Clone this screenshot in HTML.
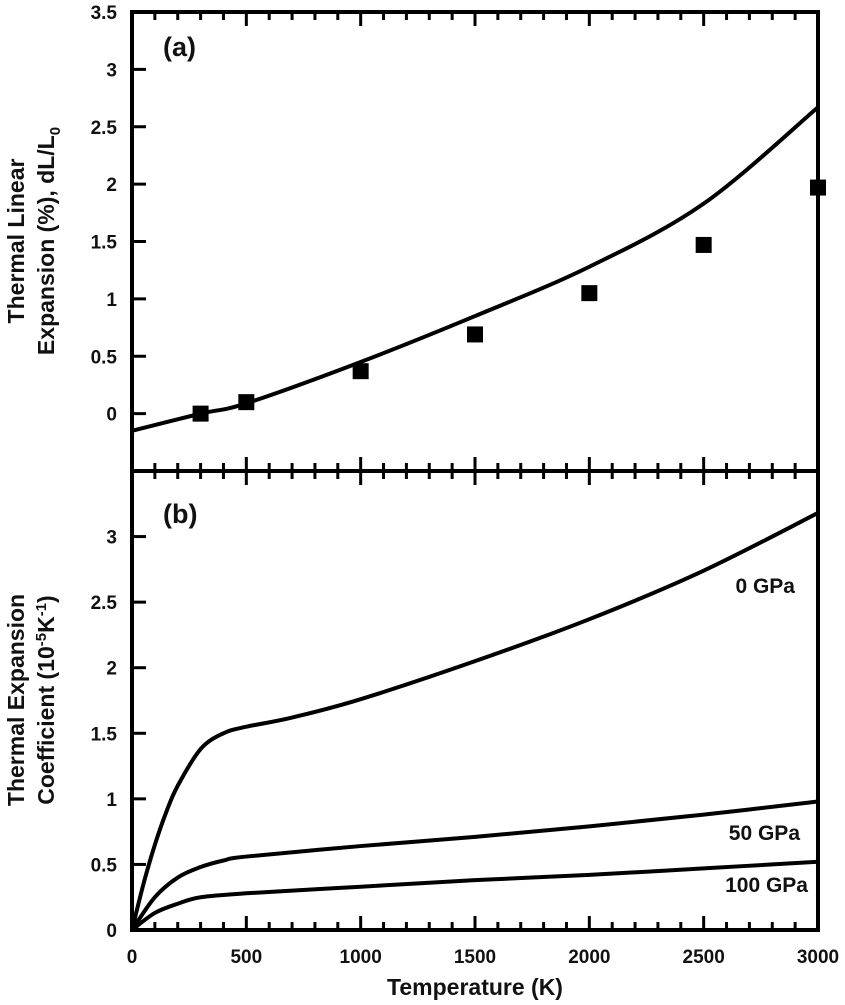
<!DOCTYPE html>
<html><head><meta charset="utf-8"><style>
body{margin:0;background:#fff;}
svg text{font-family:"Liberation Sans",Arial,sans-serif;fill:#111;}
.tick{font-size:19px;font-weight:bold;}
.title{font-size:23px;font-weight:bold;}
</style></head><body>
<svg id="chart" width="845" height="1000" viewBox="0 0 845 1000"></svg>
<script>
const tempSquares=[300,500,1000,1500,2000,2500,3000];
const expSquares=[0,0.1,0.37,0.69,1.05,1.47,1.97];
const tempCurveA=[0,300,500,1000,1500,2000,2500,3000];
const expCurveA=[-0.15,0,0.09,0.45,0.85,1.28,1.83,2.67];
const temp0=[0,50,100,150,200,300,400,500,700,1000,1500,2000,2500,3000];
const alpha0=[0,0.35,0.65,0.9,1.1,1.38,1.5,1.55,1.62,1.76,2.05,2.37,2.74,3.18];
const temp50=[0,100,200,300,400,500,1000,1500,2000,2500,3000];
const alpha50=[0,0.25,0.4,0.48,0.53,0.56,0.64,0.71,0.79,0.88,0.98];
const temp100=[0,100,200,300,500,1000,1500,2000,2500,3000];
const alpha100=[0,0.13,0.2,0.25,0.28,0.33,0.38,0.42,0.47,0.52];
const xTicks=[0,500,1000,1500,2000,2500,3000];
const yTicksA=[0,0.5,1,1.5,2,2.5,3,3.5];
const yTicksB=[0,0.5,1,1.5,2,2.5,3];

const NS="http://www.w3.org/2000/svg";
const svg=document.getElementById('chart');
const L=132,R=818,T=12,M=471,B=930;
const x=v=>L+v/3000*(R-L);
const yA=v=>M-(v+0.5)/4*(M-T);
const yB=v=>B-v/3.5*(B-M);
function mk(tag,attrs,parent){const e=document.createElementNS(NS,tag);for(const k in attrs)e.setAttribute(k,attrs[k]);(parent||svg).appendChild(e);return e;}
function txt(s,attrs){const e=mk('text',attrs);e.textContent=s;return e;}
function smooth(xs,ys,fy){const p=xs.map((v,i)=>[x(v),fy(ys[i])]);let d='M'+p[0][0]+','+p[0][1];
 for(let i=0;i<p.length-1;i++){const p0=p[i-1]||p[i],p1=p[i],p2=p[i+1],p3=p[i+2]||p2;
 d+=' C'+(p1[0]+(p2[0]-p0[0])/6)+','+(p1[1]+(p2[1]-p0[1])/6)+' '+(p2[0]-(p3[0]-p1[0])/6)+','+(p2[1]-(p3[1]-p1[1])/6)+' '+p2[0]+','+p2[1];}return d;}

let f=mk('rect',{x:L,y:T,width:R-L,height:B-T,fill:'none',stroke:'#000','stroke-width':4});

let dv=mk('line',{x1:L,x2:R,y1:M,y2:M,stroke:'#000','stroke-width':4});

for(let t=0;t<=3000;t+=100){const maj=t%500===0,len=maj?14:8;
 [T,M].forEach(y0=>mk('line',{x1:x(t),x2:x(t),y1:y0,y2:y0+len,stroke:'#000','stroke-width':3}));
 [M,B].forEach(y0=>mk('line',{x1:x(t),x2:x(t),y1:y0,y2:y0-len,stroke:'#000','stroke-width':3}));}
xTicks.forEach(t=>{const e=txt(t,{x:x(t),y:963,'text-anchor':'middle',class:'tick'});
 });
yTicksA.forEach(v=>{mk('line',{x1:L,x2:L+14,y1:yA(v),y2:yA(v),stroke:'#000','stroke-width':3});
 const e=txt(v,{x:L-15,y:yA(v)+7,'text-anchor':'end',class:'tick'});
 });
yTicksB.forEach(v=>{mk('line',{x1:L,x2:L+14,y1:yB(v),y2:yB(v),stroke:'#000','stroke-width':3});
 const e=txt(v,{x:L-15,y:yB(v)+7,'text-anchor':'end',class:'tick'});
 });
let c=mk('path',{d:smooth(tempCurveA,expCurveA,yA),fill:'none',stroke:'#000','stroke-width':4});

tempSquares.forEach((t,i)=>{const s=mk('rect',{x:x(t)-8,y:yA(expSquares[i])-8,width:16,height:16,fill:'#000'});
 });
[[temp0,alpha0,'curve-0-gpa'],[temp50,alpha50,'curve-50-gpa'],[temp100,alpha100,'curve-100-gpa']].forEach(([a,b,n])=>{
 const p=mk('path',{d:smooth(a,b,yB),fill:'none',stroke:'#000','stroke-width':4});
 });
function lbl(s,a,n){const e=txt(s,a);return e;}
lbl('(a)',{x:163,y:56,style:'font-size:27px;font-weight:bold'},'panel-a-label');
lbl('(b)',{x:163,y:523,style:'font-size:27px;font-weight:bold'},'panel-b-label');
lbl('0 GPa',{x:795,y:593,'text-anchor':'end',style:'font-size:21px;font-weight:bold'},'label-0-gpa');
lbl('50 GPa',{x:800,y:840,'text-anchor':'end',style:'font-size:21px;font-weight:bold'},'label-50-gpa');
lbl('100 GPa',{x:808,y:892,'text-anchor':'end',style:'font-size:21px;font-weight:bold'},'label-100-gpa');
lbl('Temperature (K)',{x:475,y:995,'text-anchor':'middle',class:'title'},'x-axis-title');
const ta=lbl('',{class:'title','text-anchor':'middle'},'y-axis-title-a');
ta.innerHTML='<tspan x="-241" y="24">Thermal Linear</tspan><tspan x="-241" y="54">Expansion (%), dL/L<tspan dy="6" style="font-size:15px">0</tspan></tspan>';
ta.setAttribute('transform','rotate(-90)');
const tb=lbl('',{class:'title','text-anchor':'middle'},'y-axis-title-b');
tb.innerHTML='<tspan x="-700" y="24">Thermal Expansion</tspan><tspan x="-700" y="54">Coefficient (10<tspan dy="-8" style="font-size:15px">-5</tspan><tspan dy="8">K</tspan><tspan dy="-8" style="font-size:15px">-1</tspan><tspan dy="8">)</tspan></tspan>';
tb.setAttribute('transform','rotate(-90)');
</script>
</body></html>
